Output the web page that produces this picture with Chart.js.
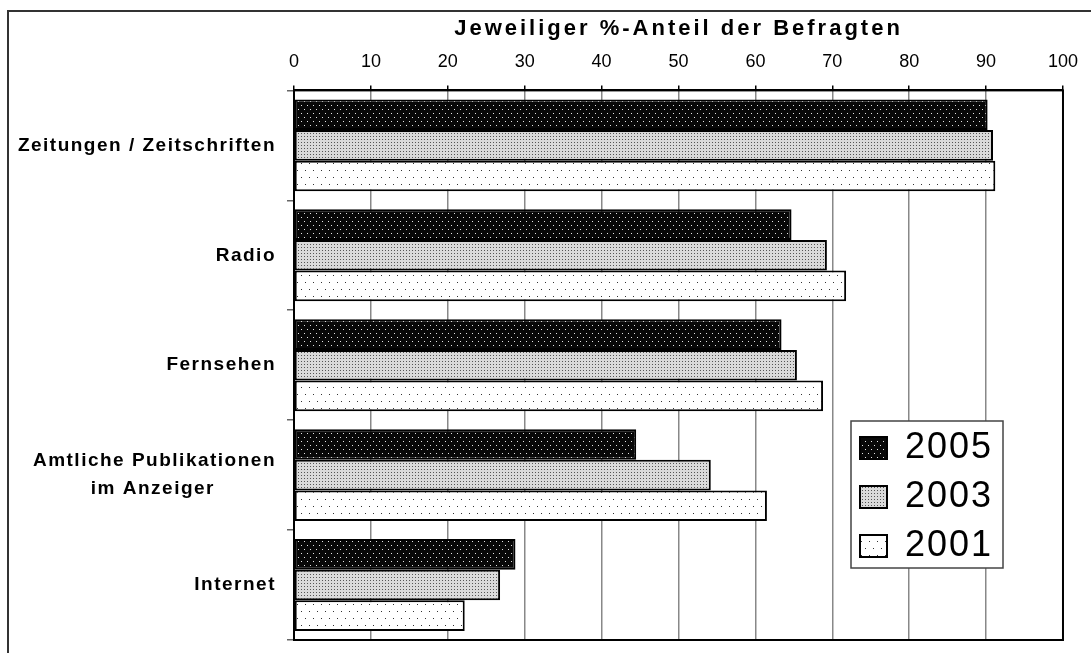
<!DOCTYPE html>
<html>
<head>
<meta charset="utf-8">
<script src="https://cdn.jsdelivr.net/npm/chart.js@4.4.1/dist/chart.umd.min.js"></script>
<style>
    html, body { margin: 0; padding: 0; background: #fff; }
    #wrap { position: relative; width: 1091px; height: 653px; overflow: hidden; }
    #frame { position: absolute; left: 7px; top: 10px; width: 1200px; height: 800px;
             border-top: 2px solid #333; border-left: 2px solid #333; }
    #chart { position: absolute; left: 0; top: 0; }
</style>
</head>
<body>
<div id="wrap">
    <div id="frame"></div>
    <canvas id="chart" width="1091" height="653"></canvas>
</div>
<script>
// data (% der Befragten)
const categories = [
    "Zeitungen / Zeitschriften",
    "Radio",
    "Fernsehen",
    ["Amtliche Publikationen", "im Anzeiger" + "\u00a0".repeat(9)],
    "Internet"
];
const years = ["2005", "2003", "2001"];
const values2005 = [90.2, 64.7, 63.4, 44.5, 28.8];
const values2003 = [90.9, 69.3, 65.4, 54.2, 26.8];
const values2001 = [91.2, 71.8, 68.8, 61.5, 22.2];
const xMin = 0, xMax = 100, xStep = 10;

const FONT = "'Liberation Sans', Arial, sans-serif";

// small dot patterns like the old excel fills
function makePattern(w, h, bg, dot, dots) {
    const c = document.createElement("canvas");
    c.width = w; c.height = h;
    const g = c.getContext("2d");
    g.fillStyle = bg;
    g.fillRect(0, 0, w, h);
    g.fillStyle = dot;
    dots.forEach(([x, y]) => g.fillRect(x, y, 1, 1));
    return g.createPattern(c, "repeat");
}
const fill2005 = makePattern(6, 8, "#080808", "#e6e6e6", [[1, 1], [4, 5]]);
const fill2003 = makePattern(3, 3, "#dadada", "#555", [[1, 1]]);
const fill2001 = makePattern(8, 14, "#fff", "#333", [[1, 2], [5, 9]]);

// legend box inside the plot (pixels)
const legendBox = { x: 851, y: 421, w: 152, h: 147 };

function wrapDraw(obj, name, spacing, before) {
    if (!obj || obj["_wrapped_" + name]) return;
    const orig = obj[name];
    obj[name] = function (...args) {
        const ctx = this.ctx;
        ctx.save();
        if (before) before(ctx);
        ctx.letterSpacing = spacing;
        orig.apply(this, args);
        ctx.restore();
    };
    obj["_wrapped_" + name] = true;
}

const layoutPlugin = {
    id: "layoutTweaks",
    afterLayout(chart) {
        const lg = chart.legend;
        if (lg) {
            lg.left = legendBox.x - 4;
            lg.top = legendBox.y - 4;
            lg.width = 220;
            lg.right = lg.left + lg.width;
            lg.bottom = lg.top + 300;
            lg.height = 300;
        }
        wrapDraw(chart.titleBlock, "draw", "3px");
        wrapDraw(chart.scales.y, "drawLabels", "1.5px");
        wrapDraw(lg, "draw", "2px", (ctx) => {
            ctx.fillStyle = "#fff";
            ctx.fillRect(legendBox.x, legendBox.y, legendBox.w, legendBox.h);
            ctx.strokeStyle = "#444";
            ctx.lineWidth = 1.5;
            ctx.strokeRect(legendBox.x, legendBox.y, legendBox.w, legendBox.h);
        });
    },
    afterDraw(chart) {
        const a = chart.chartArea;
        const ctx = chart.ctx;
        ctx.save();
        ctx.strokeStyle = "#000";
        ctx.lineWidth = 2;
        ctx.strokeRect(a.left, a.top, a.right - a.left, a.bottom - a.top);
        ctx.restore();
    }
};

new Chart(document.getElementById("chart"), {
    type: "bar",
    data: {
        labels: categories,
        datasets: [
            { label: years[0], data: values2005, backgroundColor: fill2005 },
            { label: years[1], data: values2003, backgroundColor: fill2003 },
            { label: years[2], data: values2001, backgroundColor: fill2001 }
        ]
    },
    options: {
        indexAxis: "y",
        responsive: false,
        animation: false,
        events: [],
        layout: { padding: { left: 0, top: 0, right: 15, bottom: 13 } },
        datasets: {
            bar: {
                borderColor: "#000",
                borderWidth: 2,
                borderSkipped: false,
                categoryPercentage: 0.836,
                barPercentage: 1.0
            }
        },
        plugins: {
            title: {
                display: true,
                text: "Jeweiliger %-Anteil der Befragten",
                color: "#000",
                fullSize: false,
                font: { family: FONT, size: 22, weight: "bold" },
                padding: { top: 16, bottom: 0 }
            },
            legend: {
                display: true,
                position: "chartArea",
                align: "start",
                labels: {
                    color: "#000",
                    boxWidth: 27,
                    boxHeight: 22,
                    padding: 13,
                    font: { family: FONT, size: 36 }
                }
            },
            tooltip: { enabled: false }
        },
        scales: {
            x: {
                position: "top",
                min: xMin,
                max: xMax,
                ticks: {
                    stepSize: xStep,
                    color: "#000",
                    padding: 13,
                    font: { family: FONT, size: 18 }
                },
                grid: {
                    color: "#888",
                    lineWidth: 1.5,
                    tickColor: "#000",
                    tickLength: 5
                },
                border: { color: "#000", width: 2 },
                afterFit(scale) { scale.height = 48; }
            },
            y: {
                ticks: {
                    color: "#000",
                    padding: 11,
                    font: { family: FONT, size: 19, weight: "bold", lineHeight: 1.47 }
                },
                grid: {
                    drawOnChartArea: false,
                    tickLength: 7,
                    tickColor: "#666",
                    lineWidth: 1.5
                },
                border: { color: "#000", width: 2 },
                afterFit(scale) {
                    scale.width = 294;
                    scale.paddingTop = 0;
                    scale.paddingBottom = 0;
                }
            }
        }
    },
    plugins: [layoutPlugin]
});
</script>
</body>
</html>
